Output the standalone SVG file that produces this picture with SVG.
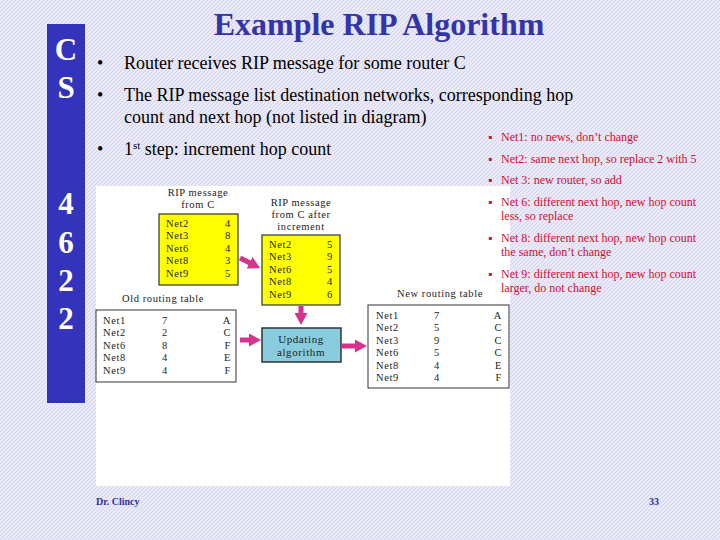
<svg xmlns="http://www.w3.org/2000/svg" width="720" height="540" viewBox="0 0 720 540">
<defs>
<pattern id="hatch" width="4" height="4" patternUnits="userSpaceOnUse">
<rect width="4" height="4" fill="#e9e9f7"/>
<path d="M-1,1 l2,-2 M0,4 l4,-4 M3,5 l2,-2" stroke="#d3d3ec" stroke-width="1"/>
</pattern>
<marker id="ah" markerWidth="2.4" markerHeight="2.6" refX="1" refY="1.3" orient="auto" markerUnits="strokeWidth">
<path d="M0,0 L2.4,1.3 L0,2.6 Z" fill="#d6338c"/>
</marker>
<style>
.side{font-family:"Liberation Serif",serif;font-weight:bold;font-size:31px;fill:#fff;text-anchor:middle}
.title{font-family:"Liberation Serif",serif;font-weight:bold;font-size:32px;fill:#3333aa;text-anchor:middle}
.b{font-family:"Liberation Serif",serif;font-size:18px;fill:#000}
.r{font-family:"Liberation Serif",serif;font-size:12px;fill:#cc1133}
.t{font-family:"Liberation Serif",serif;font-size:10.5px;letter-spacing:0.6px;fill:#222}
.c{text-anchor:middle}
.e{text-anchor:end}
.foot{font-family:"Liberation Serif",serif;font-weight:bold;font-size:10px;fill:#333399}
.tbl{fill:#fff;stroke:#333;stroke-width:1}
.yel{fill:#ffff00;stroke:#333;stroke-width:1.2}
.upd{fill:#88ccdd;stroke:#333;stroke-width:1.5}
.arr{stroke:#d6338c;stroke-width:5;fill:none;marker-end:url(#ah)}
</style>
</defs>
<rect width="720" height="540" fill="url(#hatch)"/>
<g id="sidebar">
<rect x="47" y="24" width="38" height="379" fill="#3333bb"/>
<text class="side" x="66" y="60">C</text>
<text class="side" x="66" y="98">S</text>
<text class="side" x="66" y="214">4</text>
<text class="side" x="66" y="253">6</text>
<text class="side" x="66" y="291">2</text>
<text class="side" x="66" y="329">2</text>
</g>
<text class="title" x="379" y="35">Example RIP Algorithm</text>
<g id="bullets">
<text class="b" x="97" y="69">•</text>
<text class="b" x="124" y="69">Router receives RIP message for some router C</text>
<text class="b" x="97" y="101">•</text>
<text class="b" x="124" y="101">The RIP message list destination networks, corresponding hop</text>
<text class="b" x="124" y="123">count and next hop (not listed in diagram)</text>
<text class="b" x="97" y="155">•</text>
<text class="b" x="124" y="155">1<tspan font-size="11" dy="-6">st</tspan><tspan dy="6"> step: increment hop count</tspan></text>
</g>
<rect id="figure" x="96" y="186" width="414" height="300" fill="#fff"/>
<g id="notes">
<text class="r" x="488" y="141">▪</text><text class="r" x="501" y="141">Net1: no news, don’t change</text>
<text class="r" x="488" y="163">▪</text><text class="r" x="501" y="163">Net2: same next hop, so replace 2 with 5</text>
<text class="r" x="488" y="184">▪</text><text class="r" x="501" y="184">Net 3: new router, so add</text>
<text class="r" x="488" y="206">▪</text><text class="r" x="501" y="206"><tspan x="501">Net 6: different next hop, new hop count</tspan><tspan x="501" dy="14">less, so replace</tspan></text>
<text class="r" x="488" y="242">▪</text><text class="r" x="501" y="242"><tspan x="501">Net 8: different next hop, new hop count</tspan><tspan x="501" dy="14">the same, don’t change</tspan></text>
<text class="r" x="488" y="278">▪</text><text class="r" x="501" y="278"><tspan x="501">Net 9: different next hop, new hop count</tspan><tspan x="501" dy="14">larger, do not change</tspan></text>
</g>
<g id="rip-msg">
<text class="t c" y="196"><tspan x="198">RIP message</tspan><tspan x="198" dy="12">from C</tspan></text>
<rect class="yel" x="159" y="214" width="79" height="71"/>
<text class="t" y="227"><tspan x="166">Net2</tspan><tspan x="166" dy="12.4">Net3</tspan><tspan x="166" dy="12.4">Net6</tspan><tspan x="166" dy="12.4">Net8</tspan><tspan x="166" dy="12.4">Net9</tspan></text>
<text class="t" y="227"><tspan x="225">4</tspan><tspan x="225" dy="12.4">8</tspan><tspan x="225" dy="12.4">4</tspan><tspan x="225" dy="12.4">3</tspan><tspan x="225" dy="12.4">5</tspan></text>
</g>
<g id="rip-inc">
<text class="t c" y="206"><tspan x="301">RIP message</tspan><tspan x="301" dy="12">from C after</tspan><tspan x="301" dy="12">increment</tspan></text>
<rect class="yel" x="262" y="235" width="78" height="70"/>
<text class="t" y="248"><tspan x="269">Net2</tspan><tspan x="269" dy="12.4">Net3</tspan><tspan x="269" dy="12.4">Net6</tspan><tspan x="269" dy="12.4">Net8</tspan><tspan x="269" dy="12.4">Net9</tspan></text>
<text class="t" y="248"><tspan x="327">5</tspan><tspan x="327" dy="12.4">9</tspan><tspan x="327" dy="12.4">5</tspan><tspan x="327" dy="12.4">4</tspan><tspan x="327" dy="12.4">6</tspan></text>
</g>
<g id="old-table">
<text class="t" x="122" y="302">Old routing table</text>
<rect class="tbl" x="96" y="310" width="140" height="72"/>
<text class="t" y="324"><tspan x="103">Net1</tspan><tspan x="103" dy="12.4">Net2</tspan><tspan x="103" dy="12.4">Net6</tspan><tspan x="103" dy="12.4">Net8</tspan><tspan x="103" dy="12.4">Net9</tspan></text>
<text class="t" y="324"><tspan x="162">7</tspan><tspan x="162" dy="12.4">2</tspan><tspan x="162" dy="12.4">8</tspan><tspan x="162" dy="12.4">4</tspan><tspan x="162" dy="12.4">4</tspan></text>
<text class="t e" y="324"><tspan x="231">A</tspan><tspan x="231" dy="12.4">C</tspan><tspan x="231" dy="12.4">F</tspan><tspan x="231" dy="12.4">E</tspan><tspan x="231" dy="12.4">F</tspan></text>
</g>
<g id="updating">
<rect class="upd" x="262" y="328" width="79" height="34"/>
<text class="t c" y="343" fill="#333" style="font-size:11px"><tspan x="301">Updating</tspan><tspan x="301" dy="13">algorithm</tspan></text>
</g>
<g id="new-table">
<text class="t c" x="440" y="297">New routing table</text>
<rect class="tbl" x="368" y="305" width="141" height="83"/>
<text class="t" y="319"><tspan x="376">Net1</tspan><tspan x="376" dy="12.4">Net2</tspan><tspan x="376" dy="12.4">Net3</tspan><tspan x="376" dy="12.4">Net6</tspan><tspan x="376" dy="12.4">Net8</tspan><tspan x="376" dy="12.4">Net9</tspan></text>
<text class="t" y="319"><tspan x="434">7</tspan><tspan x="434" dy="12.4">5</tspan><tspan x="434" dy="12.4">9</tspan><tspan x="434" dy="12.4">5</tspan><tspan x="434" dy="12.4">4</tspan><tspan x="434" dy="12.4">4</tspan></text>
<text class="t e" y="319"><tspan x="502">A</tspan><tspan x="502" dy="12.4">C</tspan><tspan x="502" dy="12.4">C</tspan><tspan x="502" dy="12.4">C</tspan><tspan x="502" dy="12.4">E</tspan><tspan x="502" dy="12.4">F</tspan></text>
</g>
<g id="connectors">
<line class="arr" x1="240" y1="258" x2="254" y2="265"/>
<line class="arr" x1="301" y1="306" x2="301" y2="318"/>
<line class="arr" x1="240" y1="340" x2="254" y2="340"/>
<line class="arr" x1="342" y1="346" x2="360" y2="346"/>
</g>
<text class="foot" x="96" y="505">Dr. Clincy</text>
<text class="foot" x="649" y="505">33</text>
</svg>
